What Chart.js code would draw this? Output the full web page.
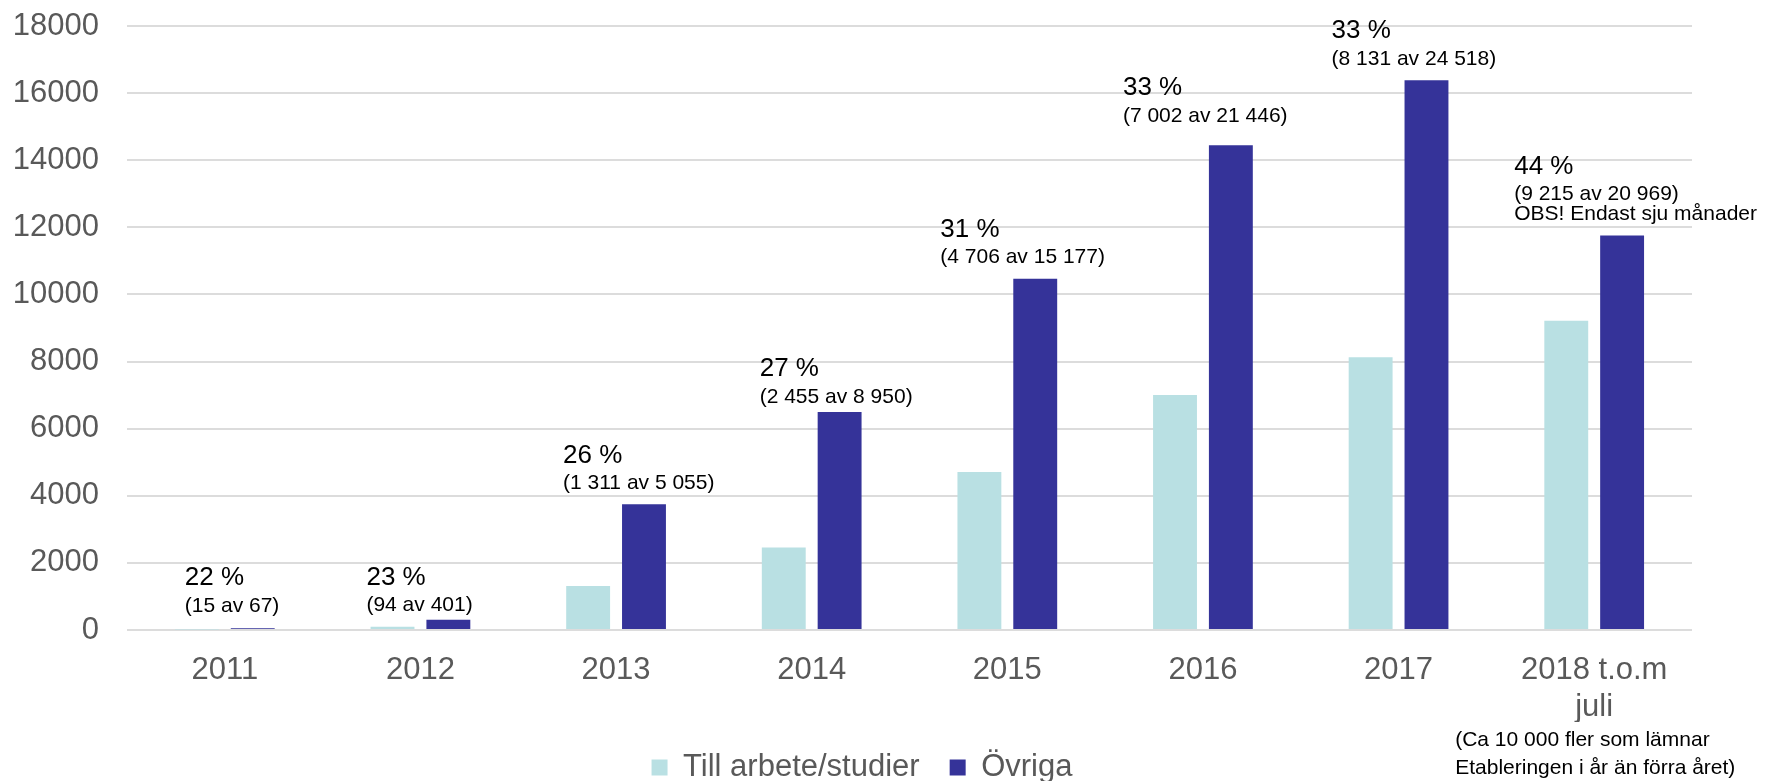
<!DOCTYPE html>
<html>
<head>
<meta charset="utf-8">
<script src="https://cdn.jsdelivr.net/npm/chart.js@4"></script>
<style>
  body { margin: 0; background: #fff; }
</style>
</head>
<body>
<canvas id="myChart" width="1765" height="781"></canvas>
<script>
// data
var years = ['2011', '2012', '2013', '2014', '2015', '2016', '2017', ['2018 t.o.m', 'juli']];
var tillArbete = [15, 94, 1311, 2455, 4706, 7002, 8131, 9215];
var ovriga = [52, 307, 3744, 6495, 10471, 14444, 16387, 11754];
var yTicks = [0, 2000, 4000, 6000, 8000, 10000, 12000, 14000, 16000, 18000];
var extraLine = ['', '', '', '', '', '', '', 'OBS! Endast sju månader'];
var bottomNote = ['(Ca 10 000 fler som lämnar', 'Etableringen i år än förra året)'];

// where the text boxes sit (px, relative to category centre / top of dark bar)
var labelDx = [-40, -54, -53, -52, -67, -80, -67, -80];
var labelDy = [-22, -14, -21, -15, -21, -29, -21, -21];

var FONT = '"Liberation Sans", Arial, sans-serif';

function fmt(n) {
  return String(n).replace(/\B(?=(\d{3})+(?!\d))/g, ' ');
}

var annotations = {
  id: 'annotations',
  afterLayout: function(chart) {
    // legend sits a bit right of centre in the original
    chart.legend.left += 10;
    chart.legend.right += 10;
  },
  afterDatasetsDraw: function(chart) {
    var ctx = chart.ctx;
    var xs = chart.scales.x;
    var dark = chart.getDatasetMeta(1);
    ctx.save();
    ctx.fillStyle = '#000';
    ctx.textAlign = 'left';
    ctx.textBaseline = 'middle';
    for (var i = 0; i < tillArbete.length; i++) {
      var total = tillArbete[i] + ovriga[i];
      var pct = Math.round(tillArbete[i] / total * 100) + ' %';
      var detail = '(' + fmt(tillArbete[i]) + ' av ' + fmt(total) + ')';
      var x = xs.getPixelForValue(i) + labelDx[i];
      var y = dark.data[i].y + labelDy[i];
      if (extraLine[i]) {
        ctx.font = '21px ' + FONT;
        ctx.fillText(extraLine[i], x, y);
        y -= 20;
      }
      ctx.font = '21px ' + FONT;
      ctx.fillText(detail, x, y);
      ctx.font = '26px ' + FONT;
      ctx.fillText(pct, x, y - 28);
    }
    // note under the last category
    ctx.font = '21px ' + FONT;
    var nx = xs.getPixelForValue(years.length - 1) - 139;
    ctx.fillText(bottomNote[0], nx, chart.chartArea.bottom + 110);
    ctx.fillText(bottomNote[1], nx, chart.chartArea.bottom + 138);
    ctx.restore();
  }
};

var ctx = document.getElementById('myChart').getContext('2d');
var chart = new Chart(ctx, {
  type: 'bar',
  data: {
    labels: years,
    datasets: [{
      label: 'Till arbete/studier',
      data: tillArbete,
      backgroundColor: '#B9E0E3',
      borderWidth: 0,
      categoryPercentage: 0.571,
      barPercentage: 0.786
    }, {
      label: 'Övriga',
      data: ovriga,
      backgroundColor: '#353399',
      borderWidth: 0,
      categoryPercentage: 0.571,
      barPercentage: 0.786
    }]
  },
  options: {
    responsive: false,
    animation: false,
    layout: { padding: { left: 12, right: 73, top: 26, bottom: -12 } },
    plugins: {
      tooltip: { enabled: false },
      legend: {
        position: 'bottom',
        labels: {
          boxWidth: 16,
          boxHeight: 16,
          padding: 30,
          color: '#595959',
          font: { family: FONT, size: 31 }
        }
      }
    },
    scales: {
      x: {
        grid: { display: false, drawTicks: false },
        border: { display: false },
        afterFit: function(scale) { scale.height = 92; },
        ticks: {
          color: '#595959',
          font: { family: FONT, size: 31 },
          padding: 22,
          maxRotation: 0,
          autoSkip: false
        }
      },
      y: {
        min: yTicks[0],
        max: yTicks[yTicks.length - 1],
        afterBuildTicks: function(scale) {
          scale.ticks = yTicks.map(function(v) { return { value: v }; });
        },
        afterFit: function(scale) {
          scale.width = 115;
          scale.paddingTop = 0;
          scale.paddingBottom = 0;
        },
        grid: { color: '#DCDCDC', lineWidth: 2, drawTicks: false },
        border: { display: false },
        ticks: {
          color: '#595959',
          font: { family: FONT, size: 31 },
          padding: 28,
          callback: function(v) { return String(v); }
        }
      }
    }
  },
  plugins: [annotations]
});
</script>
</body>
</html>
